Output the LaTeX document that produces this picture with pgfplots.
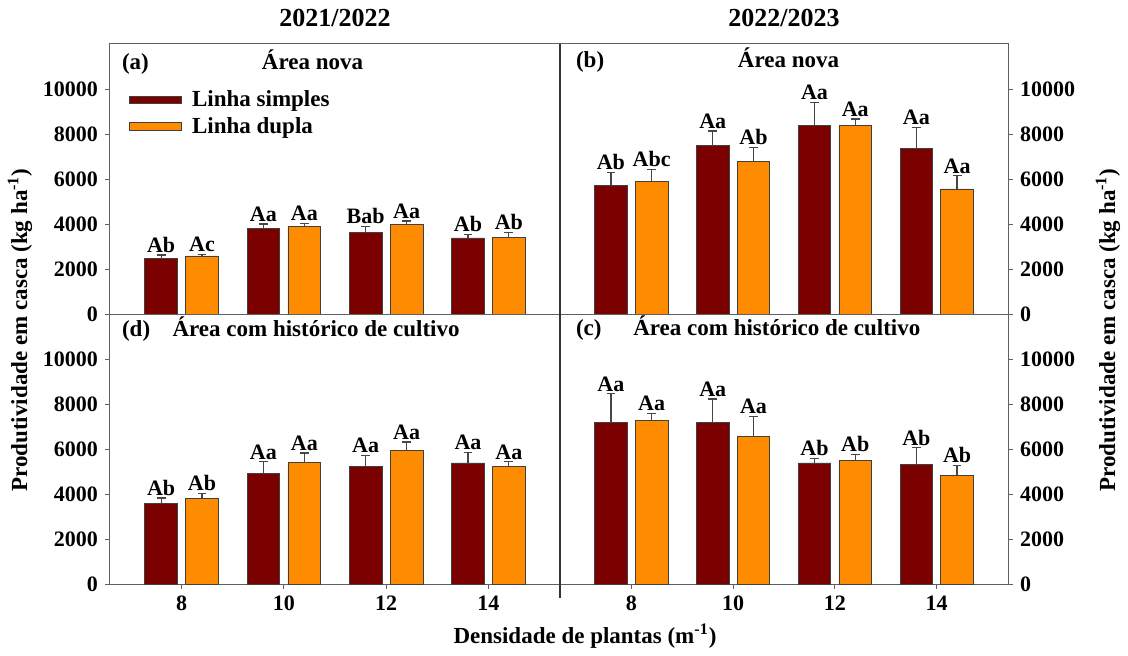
\documentclass[border=0pt]{standalone}
\usepackage{fontspec}
\setmainfont{Liberation Serif}
\usepackage{pgfplots}
\pgfplotsset{compat=1.18}
\usepackage{pgfplotstable}
\definecolor{maroonc}{RGB}{123,0,0}
\definecolor{orangec}{RGB}{255,140,0}
\newcommand{\fs}[1]{\fontsize{#1}{#1}\selectfont\bfseries}

% x: group index (8,10,12,14), y: mean, e: error, lab: letters
\pgfplotstableread{
x y e lab
0 2450 170 Ab
1 3800 200 Aa
2 3620 280 Bab
3 3380 160 Ab
}\as
\pgfplotstableread{
x y e lab
0 2580 60 Ac
1 3900 140 Aa
2 4000 130 Aa
3 3400 220 Ab
}\ad
\pgfplotstableread{
x y e lab
0 5730 560 Ab
1 7480 650 Aa
2 8370 1030 Aa
3 7360 930 Aa
}\bs
\pgfplotstableread{
x y e lab
0 5880 550 Abc
1 6770 640 Ab
2 8370 300 Aa
3 5560 580 Aa
}\bd
\pgfplotstableread{
x y e lab
0 3600 220 Ab
1 4930 500 Aa
2 5240 480 Aa
3 5380 480 Aa
}\ds
\pgfplotstableread{
x y e lab
0 3790 240 Ab
1 5400 420 Aa
2 5940 370 Aa
3 5240 190 Aa
}\dd
\pgfplotstableread{
x y e lab
0 7200 1250 Aa
1 7170 1050 Aa
2 5380 200 Ab
3 5330 720 Ab
}\cs
\pgfplotstableread{
x y e lab
0 7270 310 Aa
1 6560 900 Aa
2 5500 270 Ab
3 4830 440 Ab
}\cd

\pgfplotsset{
 panel/.style={
  scale only axis, width=225pt, height=135pt,
  anchor=south west,
  xmin=-0.7, xmax=3.7, ymin=0, ymax=12000,
  ytick={0,2000,4000,6000,8000,10000},
  axis line style={draw=gray!75!black, line width=0.5pt},
  tick style={draw=gray!75!black, line width=0.5pt},
  tick align=outside, major tick length=2.5pt,
  ticklabel style={font=\fs{11}},
  /pgf/number format/assume math mode=true,
  /pgf/number format/1000 sep={},
  scaled y ticks=false,
  clip=false,
 },
 bars/.style={ybar, bar width=0.32, bar shift=0pt, draw=black!75, line width=0.4pt,
  error bars/y dir=plus, error bars/y explicit,
  error bars/error bar style={draw=gray!55!black, line width=0.6pt},
  error bars/error mark options={rotate=90, draw=gray!55!black, line width=0.6pt, mark size=2.2pt}},
 labs/.style={forget plot, draw=none, mark=none, nodes near coords,
  point meta=explicit symbolic,
  nodes near coords style={font=\fs{11}, anchor=south, inner sep=1pt, text=black}},
}

\begin{document}
\begin{tikzpicture}
% (a)
\begin{axis}[panel, at={(55pt,170.5pt)}, xtick=\empty, ytick pos=left,
  legend style={at={(0.042,0.845)}, anchor=north west, draw=none, fill=none,
    font=\fs{11.5}, inner sep=0pt, row sep=0pt},
  legend cell align=left]
\addplot[bars, fill=maroonc,
  legend image code/.code={\draw[fill=maroonc, draw=black!75, line width=0.4pt] (0pt,-1.9pt) rectangle (26pt,1.9pt); \path (29pt,0pt);}]
  table[x expr=\thisrow{x}-0.2, y=y, y error=e]{\as};
\addlegendentry{Linha simples}
\addplot[bars, fill=orangec,
  legend image code/.code={\draw[fill=orangec, draw=black!75, line width=0.4pt] (0pt,-1.9pt) rectangle (26pt,1.9pt); \path (29pt,0pt);}]
  table[x expr=\thisrow{x}+0.2, y=y, y error=e]{\ad};
\addlegendentry{Linha dupla}
\addplot[labs] table[x expr=\thisrow{x}-0.2, y expr=\thisrow{y}+\thisrow{e}, meta=lab]{\as};
\addplot[labs] table[x expr=\thisrow{x}+0.2, y expr=\thisrow{y}+\thisrow{e}, meta=lab]{\ad};
\node[font=\fs{13}] at (rel axis cs:0.5,1) [yshift=13pt] {2021/2022};
\node[font=\fs{11.5}, anchor=base west, xshift=2.5pt, yshift=-12.5pt] at (rel axis cs:0,1) {(a)};
\node[font=\fs{11.5}, anchor=base, yshift=-12.5pt] at (rel axis cs:0.45,1) {Área nova};
\end{axis}
% (d)
\begin{axis}[panel, at={(55pt,35.5pt)}, xtick={0,1,2,3}, xticklabels={8,10,12,14},
  xtick pos=left, ytick pos=left]
\addplot[bars, fill=maroonc] table[x expr=\thisrow{x}-0.2, y=y, y error=e]{\ds};
\addplot[bars, fill=orangec] table[x expr=\thisrow{x}+0.2, y=y, y error=e]{\dd};
\addplot[labs] table[x expr=\thisrow{x}-0.2, y expr=\thisrow{y}+\thisrow{e}, meta=lab]{\ds};
\addplot[labs] table[x expr=\thisrow{x}+0.2, y expr=\thisrow{y}+\thisrow{e}, meta=lab]{\dd};
\node[font=\fs{11.5}, anchor=base west, xshift=2.5pt, yshift=-11pt] at (rel axis cs:0,1) {(d)};
\node[font=\fs{11.5}, anchor=base, yshift=-11pt] at (rel axis cs:0.458,1) {Área com histórico de cultivo};
\end{axis}
% (b)
\begin{axis}[panel, width=224pt, at={(280pt,170.5pt)}, xtick=\empty,
  ytick pos=right, yticklabel pos=right]
\addplot[bars, fill=maroonc] table[x expr=\thisrow{x}-0.2, y=y, y error=e]{\bs};
\addplot[bars, fill=orangec] table[x expr=\thisrow{x}+0.2, y=y, y error=e]{\bd};
\addplot[labs] table[x expr=\thisrow{x}-0.2, y expr=\thisrow{y}+\thisrow{e}, meta=lab]{\bs};
\addplot[labs] table[x expr=\thisrow{x}+0.2, y expr=\thisrow{y}+\thisrow{e}, meta=lab]{\bd};
\draw[black!80, line width=0.6pt] (rel axis cs:0,0) -- (rel axis cs:0,1);
\node[font=\fs{13}] at (rel axis cs:0.5,1) [yshift=13pt] {2022/2023};
\node[font=\fs{11.5}, anchor=base west, xshift=4.5pt, yshift=-11.5pt] at (rel axis cs:0,1) {(b)};
\node[font=\fs{11.5}, anchor=base, yshift=-11.5pt] at (rel axis cs:0.51,1) {Área nova};
\end{axis}
% (c)
\begin{axis}[panel, width=224pt, at={(280pt,35.5pt)}, xtick={0,1,2,3}, xticklabels={8,10,12,14},
  xtick pos=left, ytick pos=right, yticklabel pos=right]
\addplot[bars, fill=maroonc] table[x expr=\thisrow{x}-0.2, y=y, y error=e]{\cs};
\addplot[bars, fill=orangec] table[x expr=\thisrow{x}+0.2, y=y, y error=e]{\cd};
\addplot[labs] table[x expr=\thisrow{x}-0.2, y expr=\thisrow{y}+\thisrow{e}, meta=lab]{\cs};
\addplot[labs] table[x expr=\thisrow{x}+0.2, y expr=\thisrow{y}+\thisrow{e}, meta=lab]{\cd};
\draw[black!80, line width=0.6pt] (rel axis cs:0,-0.05) -- (rel axis cs:0,1);
\node[font=\fs{11.5}, anchor=base west, xshift=4.5pt, yshift=-10.5pt] at (rel axis cs:0,1) {(c)};
\node[font=\fs{11.5}, anchor=base, yshift=-10.5pt] at (rel axis cs:0.484,1) {Área com histórico de cultivo};
\end{axis}
\node[rotate=90, font=\fs{11.5}] at (10pt,162.5pt) {Produtividade em casca (kg ha\textsuperscript{-1})};
\node[rotate=90, font=\fs{11.5}] at (554pt,162.5pt) {Produtividade em casca (kg ha\textsuperscript{-1})};
\node[font=\fs{11.5}] at (292.5pt,9.5pt) {Densidade de plantas (m\textsuperscript{-1})};
\pgfresetboundingbox
\useasboundingbox (0pt,0pt) rectangle (564pt,327.5pt);
\end{tikzpicture}
\end{document}
